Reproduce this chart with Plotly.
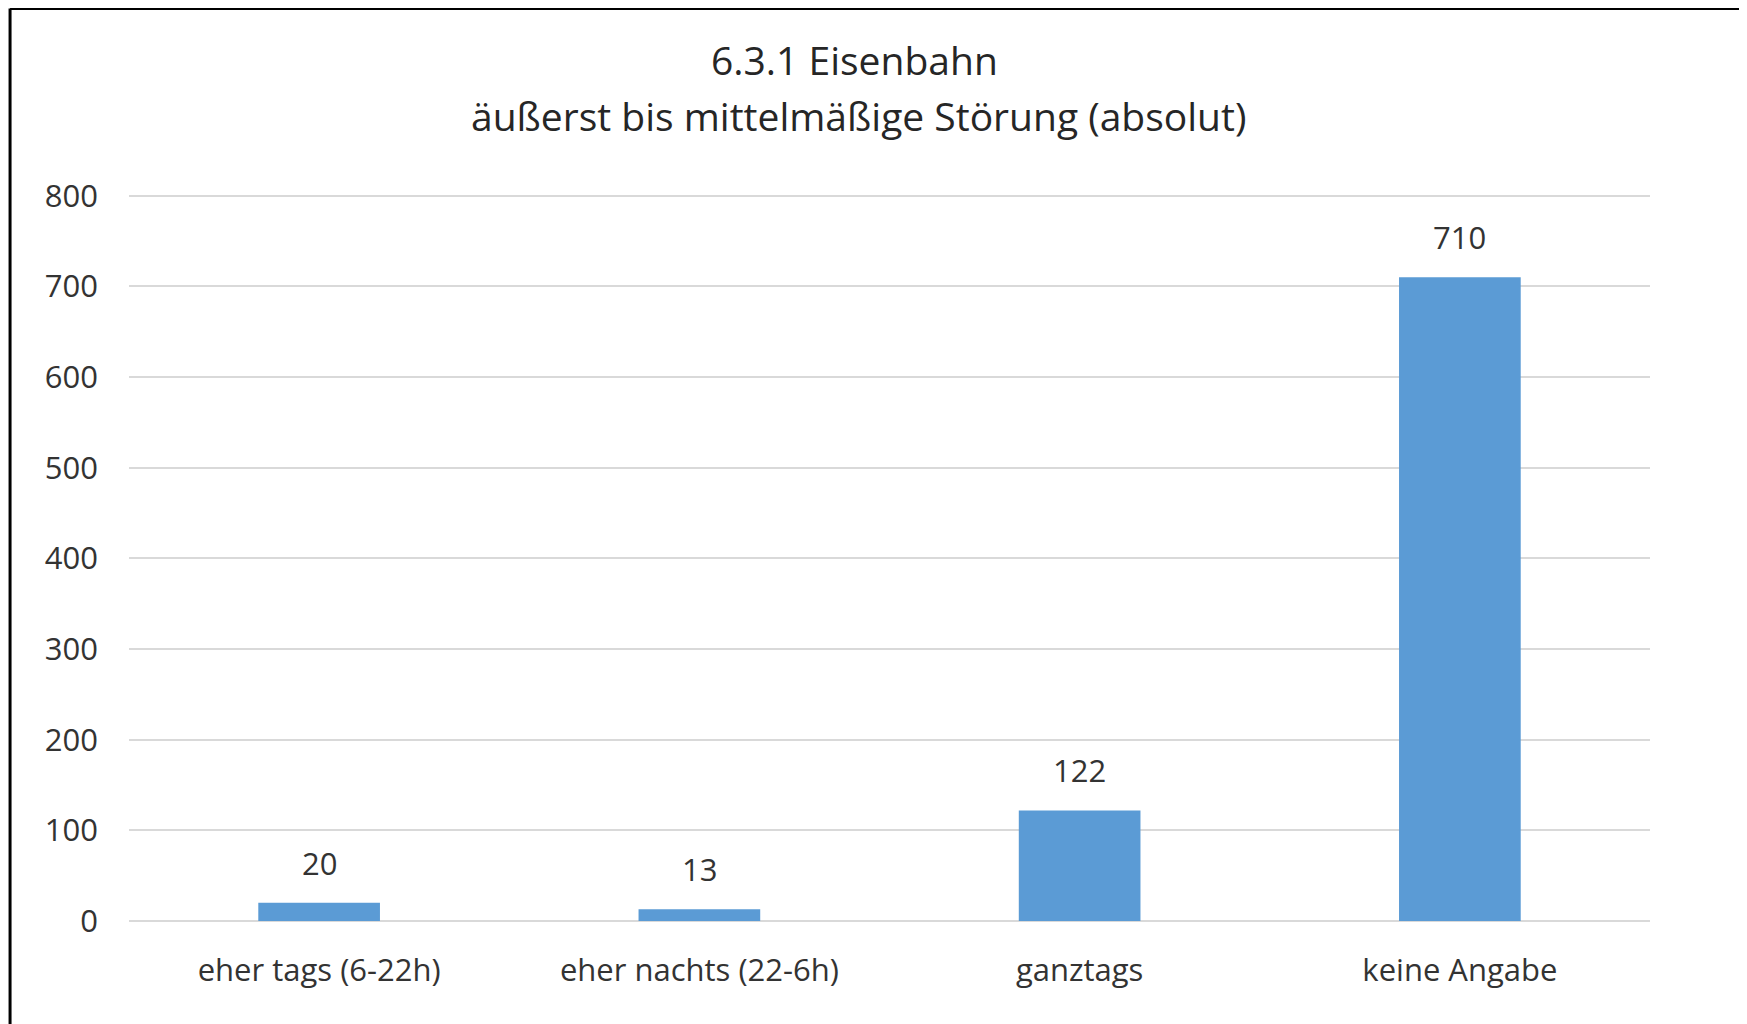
import plotly.graph_objects as go

categories = ["eher tags (6-22h)", "eher nachts (22-6h)", "ganztags", "keine Angabe"]
values = [20, 13, 122, 710]
y_ticks = [0, 100, 200, 300, 400, 500, 600, 700, 800]
title_lines = ["6.3.1 Eisenbahn", "äußerst bis mittelmäßige Störung (absolut)"]

FONT = "Open Sans"
TEXT = "#333333"
BAR = "#5B9BD5"
GRID = "#D9D9D9"

fig = go.Figure()
fig.add_trace(go.Bar(x=categories, y=values, marker=dict(color=BAR, line=dict(width=0)),
                     hoverinfo="x+y"))

# data labels sitting above the bars
for c, v in zip(categories, values):
    fig.add_annotation(x=c, y=v, text=str(v), showarrow=False, yanchor="middle", yshift=40,
                       font=dict(family=FONT, size=31, color=TEXT))

# two-line title, each line placed on its own
fig.add_annotation(text=title_lines[0], xref="paper", yref="paper", x=0.4767, y=1.1834,
                   xanchor="center", yanchor="middle", showarrow=False,
                   font=dict(family=FONT, size=39, color="#262626"))
fig.add_annotation(text=title_lines[1], xref="paper", yref="paper", x=0.4793, y=1.1062,
                   xanchor="center", yanchor="middle", showarrow=False,
                   font=dict(family=FONT, size=39, color="#262626"))

# the black frame (only top and left edges are visible in the picture)
fig.add_shape(type="line", xref="paper", yref="paper", x0=-0.0782, x1=-0.0782, y0=-0.3, y1=1.2535,
              line=dict(color="black", width=3))
fig.add_shape(type="line", xref="paper", yref="paper", x0=-0.0782, x1=1.1, y0=1.2535, y1=1.2535,
              line=dict(color="black", width=3))

fig.update_layout(
    width=1739, height=1016,
    margin=dict(l=121, r=97, t=185, b=103),
    paper_bgcolor="white", plot_bgcolor="white",
    bargap=0.68, showlegend=False,
    font=dict(family=FONT, size=31, color=TEXT),
)
fig.update_xaxes(showgrid=False, showline=False, ticks="", ticklabelstandoff=28,
                 tickfont=dict(family=FONT, size=31, color=TEXT))
fig.update_yaxes(range=[0, 803], tickvals=y_ticks, showgrid=True, gridcolor=GRID, gridwidth=2,
                 zeroline=True, zerolinecolor=GRID, zerolinewidth=2, showline=False,
                 ticklabelstandoff=30, tickfont=dict(family=FONT, size=31, color=TEXT))

fig.write_html("out.html")
